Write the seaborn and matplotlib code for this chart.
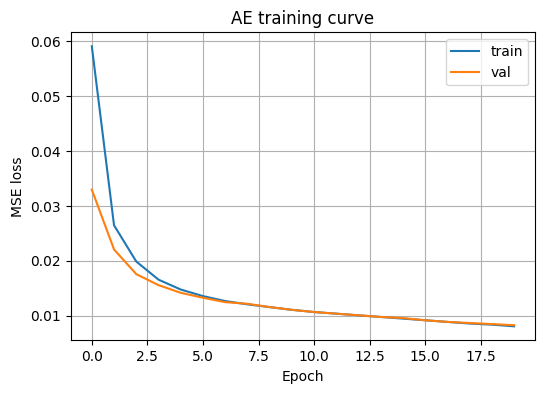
import numpy as np
import pandas as pd
import matplotlib
matplotlib.use("Agg")
import matplotlib.pyplot as plt
import seaborn as sns

epochs = list(range(20))
train_loss = [0.0591, 0.0265, 0.0199, 0.0166, 0.0148, 0.0136, 0.0127, 0.0121, 0.0116, 0.0111,
              0.0107, 0.0104, 0.0101, 0.0098, 0.0095, 0.0092, 0.0089, 0.0086, 0.0084, 0.0081]
val_loss = [0.0330, 0.0221, 0.0176, 0.0156, 0.0142, 0.0133, 0.0125, 0.0122, 0.0116, 0.0111,
            0.0107, 0.0104, 0.0101, 0.0098, 0.0096, 0.0092, 0.0089, 0.0087, 0.0085, 0.0083]

df = pd.DataFrame({
    "Epoch": epochs * 2,
    "loss": train_loss + val_loss,
    "split": ["train"] * len(epochs) + ["val"] * len(epochs),
})

fig = plt.figure(figsize=(5.45, 3.93), dpi=100)
ax = fig.add_axes([70.7 / 545, (393 - 340.3) / 393, 464.5 / 545, 308 / 393])
sns.lineplot(data=df, x="Epoch", y="loss", hue="split",
             palette=["#1f77b4", "#ff7f0e"], ax=ax, linewidth=1.5)
ax.set_title("AE training curve")
ax.set_xlabel("Epoch")
ax.set_ylabel("MSE loss")
ax.grid(True)
ax.legend(title=None, loc="upper right")
fig.savefig("out.png", dpi=100)
